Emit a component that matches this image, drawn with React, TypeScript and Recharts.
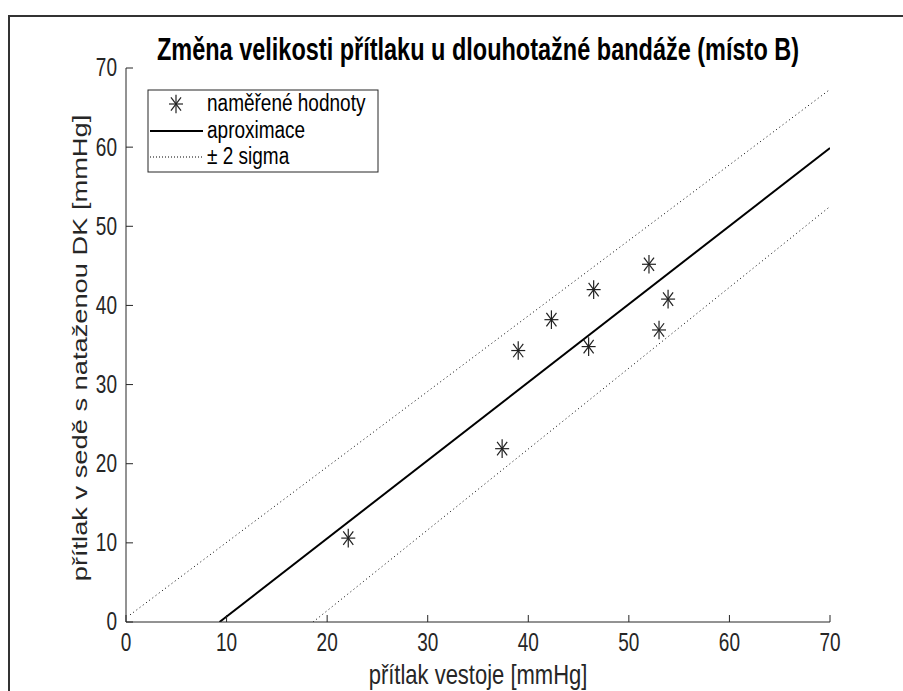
import { ComposedChart, Scatter, Line, XAxis, YAxis, Customized } from 'recharts';

// measured points: přítlak vestoje vs přítlak v sedě
const measured = [
  { x: 22.1, y: 10.6 },
  { x: 37.4, y: 21.9 },
  { x: 39.0, y: 34.3 },
  { x: 42.3, y: 38.2 },
  { x: 46.0, y: 34.8 },
  { x: 46.5, y: 42.0 },
  { x: 52.0, y: 45.2 },
  { x: 53.0, y: 36.9 },
  { x: 53.9, y: 40.8 },
];

const fitLine = [
  { x: 9.3, y: 0 },
  { x: 70, y: 59.9 },
];

const upperBand = [
  { x: 0.4, y: 0.9 },
  { x: 70, y: 67.3 },
];

const lowerBand = [
  { x: 18.6, y: 0 },
  { x: 70, y: 52.5 },
];

const xTicks = [0, 10, 20, 30, 40, 50, 60, 70];
const yTicks = [0, 10, 20, 30, 40, 50, 60, 70];

const title = 'Změna velikosti přítlaku u dlouhotažné bandáže (místo B)';
const xLabel = 'přítlak vestoje [mmHg]';
const yLabel = 'přítlak v sedě s nataženou DK [mmHg]';
const legendLabels = ['naměřené hodnoty', 'aproximace', '± 2 sigma'];

const axisColor = '#262626';
const font = 'Liberation Sans, Arial, sans-serif';
// the source figure is stretched vertically, text included
const stretch = 1.33;

const Asterisk = (props: any) => {
  const { cx, cy } = props;
  const rx = 7;
  const ry = 7 * stretch;
  const dx = rx * 0.72;
  const dy = ry * 0.72;
  return (
    <g stroke="#222" strokeWidth={1.2}>
      <line x1={cx - rx} y1={cy} x2={cx + rx} y2={cy} />
      <line x1={cx} y1={cy - ry} x2={cx} y2={cy + ry} />
      <line x1={cx - dx} y1={cy - dy} x2={cx + dx} y2={cy + dy} />
      <line x1={cx - dx} y1={cy + dy} x2={cx + dx} y2={cy - dy} />
    </g>
  );
};

const XTick = (props: any) => (
  <text
    transform={`translate(${props.x} ${props.y}) scale(1 ${stretch})`}
    textAnchor="middle"
    dominantBaseline="central"
    fontSize={19}
    fontFamily={font}
    fill={axisColor}
  >
    {props.payload.value}
  </text>
);

const YTick = (props: any) => (
  <text
    transform={`translate(${props.x} ${props.y}) scale(1 ${stretch})`}
    textAnchor="end"
    dominantBaseline="central"
    fontSize={19}
    fontFamily={font}
    fill={axisColor}
  >
    {props.payload.value}
  </text>
);

const Decorations = () => (
  <g fontFamily={font}>
    <text
      transform={`translate(478 60) scale(1 ${stretch})`}
      textAnchor="middle"
      fontSize={23.5}
      fontWeight="bold"
      fill="#000"
    >
      {title}
    </text>
    <text
      transform="translate(478 684) scale(1 1.28)"
      textAnchor="middle"
      fontSize={22}
      fill={axisColor}
    >
      {xLabel}
    </text>
    <text
      transform={`translate(87 348) rotate(-90) scale(${stretch} 1)`}
      textAnchor="middle"
      fontSize={20.5}
      fill={axisColor}
    >
      {yLabel}
    </text>
    <g fontSize={19} fill="#000">
      <rect x={148} y={90} width={230} height={82} fill="#fff" stroke={axisColor} strokeWidth={1} />
      <Asterisk cx={176} cy={104} />
      <text transform="translate(207 111) scale(1 1.25)">{legendLabels[0]}</text>
      <line x1={150} y1={131} x2={203} y2={131} stroke="#000" strokeWidth={2} />
      <text transform="translate(207 138) scale(1 1.25)">{legendLabels[1]}</text>
      <line x1={150} y1={157} x2={203} y2={157} stroke="#000" strokeWidth={1} strokeDasharray="1 2" />
      <text transform="translate(207 164) scale(1 1.25)">{legendLabels[2]}</text>
    </g>
  </g>
);

export default function App() {
  return (
    <div style={{ position: 'absolute', left: 0, top: 0, width: 903, height: 691, background: '#fff' }}>
      <div
        style={{
          position: 'absolute',
          left: 8,
          top: 15,
          width: 900,
          height: 690,
          borderLeft: '2px solid #333',
          borderTop: '2px solid #333',
        }}
      />
      <div style={{ position: 'absolute', left: 0, top: 0 }}>
        <ComposedChart
          width={903}
          height={691}
          margin={{ top: 68, right: 73, bottom: 29, left: 66 }}
        >
          <XAxis
            type="number"
            dataKey="x"
            domain={[0, 70]}
            ticks={xTicks}
            allowDataOverflow
            height={40}
            tickSize={-7}
            tickMargin={28}
            stroke={axisColor}
            tick={<XTick />}
          />
          <YAxis
            type="number"
            dataKey="y"
            domain={[0, 70]}
            ticks={yTicks}
            allowDataOverflow
            width={60}
            tickSize={-7}
            tickMargin={16}
            stroke={axisColor}
            tick={<YTick />}
          />
          <Line
            data={upperBand}
            dataKey="y"
            stroke="#000"
            strokeWidth={1}
            strokeDasharray="1 3"
            dot={false}
            isAnimationActive={false}
          />
          <Line
            data={lowerBand}
            dataKey="y"
            stroke="#000"
            strokeWidth={1}
            strokeDasharray="1 3"
            dot={false}
            isAnimationActive={false}
          />
          <Line
            data={fitLine}
            dataKey="y"
            stroke="#000"
            strokeWidth={2}
            dot={false}
            isAnimationActive={false}
          />
          <Scatter data={measured} dataKey="y" shape={<Asterisk />} isAnimationActive={false} />
          <Customized component={Decorations} />
        </ComposedChart>
      </div>
    </div>
  );
}
